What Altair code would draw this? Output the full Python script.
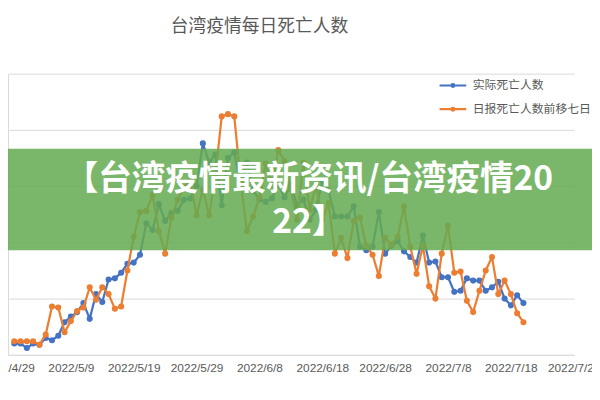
import altair as alt
import pandas as pd

# ---------------- data ----------------
start_date = "2022-04-30"
series_names = ["实际死亡人数", "日报死亡人数前移七日"]
series_colors = ["#4472C4", "#ED7D31"]

actual_deaths = [10, 10, 6, 10, 9, 15, 13, 17, 29, 34,
                 38, 46, 32, 54, 47, 67, 68, 73, 81, 82,
                 89, 117, 111, 134, 119, 126, 128, 138, 139, 150,
                 188, 171, 178, 133, 175, 180, 149, 171, 146, 138,
                 136, 139, 151, 140, 151, 133, 138, 120, 129, 155,
                 146, 123, 123, 123, 132, 96, 93, 96, 127, 90,
                 97, 101, 92, 87, 82, 106, 82, 83, 69, 69,
                 56, 57, 68, 66, 66, 57, 60, 65, 50, 44,
                 53, 46]

shifted_reported = [12, 12, 12, 12, 9, 18, 43, 42, 20, 30,
                    39, 42, 60, 49, 60, 54, 41, 43, 75, 105,
                    127, 128, 142, 110, 90, 122, 138, 149, 155, 124,
                    147, 124, 160, 212, 214, 212, 155, 110, 123, 140,
                    170, 151, 182, 172, 147, 120, 171, 129, 151, 120,
                    135, 90, 104, 86, 119, 122, 97, 89, 70, 104,
                    98, 105, 132, 96, 72, 97, 61, 50, 90, 115,
                    73, 74, 48, 38, 57, 75, 87, 54, 66, 54,
                    37, 29]

tick_dates = [(4, 29), (5, 9), (5, 19), (5, 29), (6, 8), (6, 18),
              (6, 28), (7, 8), (7, 18), (7, 28)]
y_grid = [0, 50, 100, 150, 200, 250]

title_text = "台湾疫情每日死亡人数"
banner_lines = ["【台湾疫情最新资讯/台湾疫情20", "22】"]

# ---------------- tables ----------------
dates = pd.date_range(start_date, periods=len(actual_deaths), freq="D").strftime("%Y-%m-%d")
df = pd.concat([
    pd.DataFrame({"date": dates, "series": series_names[0], "value": actual_deaths}),
    pd.DataFrame({"date": dates, "series": series_names[1], "value": shifted_reported}),
], ignore_index=True)
one_row = pd.DataFrame({"k": [0]})

GRID = "#d9d9d9"
TEXT = "#595959"
CJK = "Noto Sans CJK SC"

x_enc = alt.X(
    "date:T",
    title=None,
    scale=alt.Scale(
        type="utc",
        domain=[alt.DateTime(year=2022, month=4, date=29, utc=True),
                alt.DateTime(year=2022, month=7, date=28, hours=2, utc=True)],
    ),
    axis=alt.Axis(
        values=[alt.DateTime(year=2022, month=m, date=d, utc=True) for m, d in tick_dates],
        format="%Y/%-m/%-d",
        grid=False, ticks=False,
        domainColor=GRID, domainWidth=1,
        labelColor=TEXT, labelFont="Liberation Sans", labelFontSize=12,
        labelPadding=8, labelOverlap=False, labelFlush=False,
    ),
)
y_enc = alt.Y(
    "value:Q",
    title=None,
    scale=alt.Scale(domain=[0, 250], nice=False, zero=True),
    axis=alt.Axis(values=y_grid, labels=False, ticks=False, grid=True,
                  gridColor=GRID, gridWidth=1, domain=True, domainColor=GRID),
)

legend_symbol = ("M-1,0L1,0M-0.104,0A0.104,0.104,0,1,0,0.104,0"
                 "A0.104,0.104,0,1,0,-0.104,0")
legend_def = alt.Legend(
    title=None, orient="none", legendX=436, legendY=-3,
    symbolType=legend_symbol, symbolSize=729, symbolStrokeWidth=2.25,
    labelFont=CJK, labelFontSize=12, labelColor=TEXT, labelOffset=5,
    rowPadding=3, padding=0,
)
color_scale = alt.Scale(domain=series_names, range=series_colors)

layers = []
for idx, name in enumerate(series_names):
    sub = alt.Chart(df).transform_filter(alt.datum.series == name)
    layers.append(sub.mark_line(strokeWidth=2.25).encode(
        x=x_enc, y=y_enc,
        color=alt.Color("series:N", scale=color_scale, legend=legend_def)))
    layers.append(sub.mark_point(filled=True, size=38, opacity=1).encode(
        x=x_enc, y=y_enc,
        color=alt.Color("series:N", scale=color_scale, legend=None)))

band = alt.Chart(one_row).mark_rect(color="#64aa50", opacity=0.85).encode(
    x=alt.value(-8), x2=alt.value(592), y=alt.value(76), y2=alt.value(179))
banner1 = alt.Chart(one_row).mark_text(
    text=banner_lines[0], font=CJK, fontWeight="bold", fontSize=34,
    color="white", align="center", baseline="middle").encode(
    x=alt.value(305), y=alt.value(108))
banner2 = alt.Chart(one_row).mark_text(
    text=banner_lines[1], font=CJK, fontWeight="bold", fontSize=34,
    color="white", align="center", baseline="middle").encode(
    x=alt.value(305), y=alt.value(151))
title = alt.Chart(one_row).mark_text(
    text=title_text, font=CJK, fontSize=18, color=TEXT,
    align="center", baseline="middle").encode(
    x=alt.value(255), y=alt.value(-47))

chart = alt.layer(*layers, band, banner1, banner2, title).properties(
    width=574, height=285,
    autosize=alt.AutoSizeParams(type="none"),
    padding={"top": 64, "left": 0, "right": 18, "bottom": 27},
    background="white",
).configure_view(strokeWidth=0)

chart.save("out.html", embed_options={"renderer": "svg", "actions": False})
